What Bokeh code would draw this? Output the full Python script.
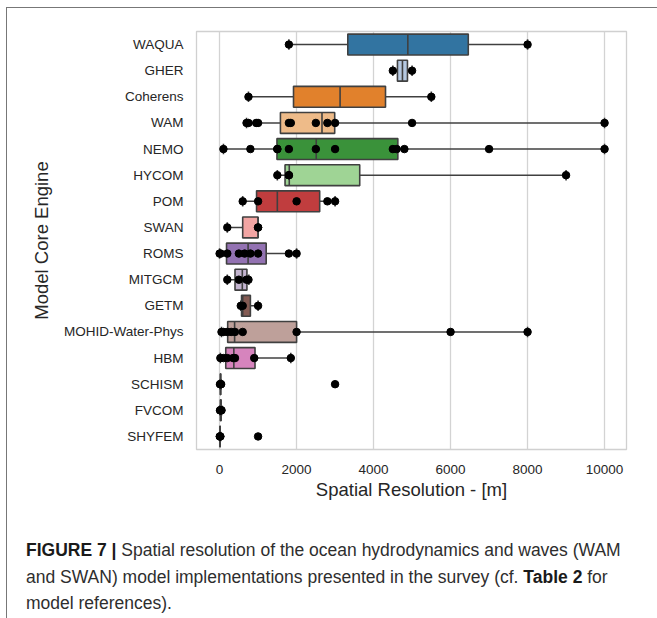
import colorsys
from bokeh.plotting import figure
from bokeh.models import FactorRange, Range1d, FixedTicker, ColumnDataSource, Div
from bokeh.layouts import column
from bokeh.transform import dodge
from bokeh.embed import file_html
from bokeh.resources import INLINE

# ---------------- data ----------------
cats = ["WAQUA", "GHER", "Coherens", "WAM", "NEMO", "HYCOM", "POM", "SWAN",
        "ROMS", "MITGCM", "GETM", "MOHID-Water-Phys", "HBM", "SCHISM",
        "FVCOM", "SHYFEM"]

whisker_lo = [1800, 4500, 750, 700, 100, 1500, 600, 200, 0, 200, 550, 50, 20, 10, 10, 5]
q1         = [3330, 4620, 1920, 1580, 1490, 1700, 960, 600, 180, 400, 570, 210, 160, 20, 20, 10]
medians    = [4890, 4750, 3130, 2660, 2510, 1810, 1500, 1000, 740, 590, 600, 390, 370, 25, 30, 10]
q3         = [6460, 4880, 4310, 2990, 4630, 3640, 2600, 1000, 1210, 710, 800, 2000, 920, 30, 40, 15]
whisker_hi = [8000, 5000, 5500, 10000, 10000, 9000, 3000, 1000, 2000, 760, 1000, 8000, 1850, 40, 50, 20]

pts_waqua = [1800, 8000]
pts_gher = [4500, 5000]
pts_coherens = [750, 5500]
pts_wam = [700, 750, 950, 1000, 1800, 1850, 2500, 2800, 3000, 5000, 10000]
pts_nemo = [100, 800, 1500, 1500, 1800, 2500, 3000, 4500, 4600, 4800, 7000, 10000]
pts_hycom = [1500, 1800, 1800, 9000]
pts_pom = [600, 1000, 2000, 2800, 3000]
pts_swan = [200, 1000, 1000]
pts_roms = [0, 30, 200, 500, 650, 800, 1000, 1800, 2000]
pts_mitgcm = [200, 500, 700, 750]
pts_getm = [550, 600, 1000]
pts_mohid = [50, 100, 200, 300, 400, 600, 2000, 6000, 8000]
pts_hbm = [20, 100, 200, 350, 400, 900, 1850]
pts_schism = [10, 20, 30, 40, 3000]
pts_fvcom = [10, 20, 30, 40, 50]
pts_shyfem = [5, 10, 15, 20, 1000]

x_ticks = [0, 2000, 4000, 6000, 8000, 10000]

caption_html = ("<b style='color:#1a1a1a'>FIGURE 7 |</b> Spatial resolution of the ocean "
                "hydrodynamics and waves (WAM<br>and SWAN) model implementations presented "
                "in the survey (cf. <b style='color:#1a1a1a'>Table 2</b> for<br>model references).")

# ---------------- styling ----------------
base_palette = ["#1f77b4", "#aec7e8", "#ff7f0e", "#ffbb78", "#2ca02c", "#98df8a",
                "#d62728", "#ff9896", "#9467bd", "#c5b0d5", "#8c564b", "#c49c94",
                "#e377c2", "#f7b6d2", "#7f7f7f", "#c7c7c7"]


def desat(hexc, prop=0.75):
    r, g, b = (int(hexc[i:i + 2], 16) / 255 for i in (1, 3, 5))
    h, l, s = colorsys.rgb_to_hls(r, g, b)
    r, g, b = colorsys.hls_to_rgb(h, l, s * prop)
    return "#%02x%02x%02x" % (round(r * 255), round(g * 255), round(b * 255))


colors = [desat(c) for c in base_palette]
edge = "#404040"
FONT = "Liberation Sans"

p = figure(width=641, height=502, output_backend="svg", toolbar_location=None,
           y_range=FactorRange(factors=list(reversed(cats))),
           x_range=Range1d(-600, 10570),
           min_border_left=189, min_border_right=22, min_border_top=23,
           min_border_bottom=61)

p.ygrid.grid_line_color = None
p.xgrid.grid_line_color = "#d3d3d3"
p.xgrid.grid_line_width = 1.3
p.outline_line_color = "#d0d0d0"
p.outline_line_width = 1.3
p.xaxis.ticker = FixedTicker(ticks=x_ticks)

for ax in (p.xaxis, p.yaxis):
    ax.axis_line_color = None
    ax.major_tick_line_color = None
    ax.minor_tick_line_color = None
    ax.major_label_text_font = FONT
    ax.major_label_text_font_size = "13.5px"
    ax.major_label_text_color = "#262626"
    ax.axis_label_text_font = FONT
    ax.axis_label_text_font_size = "18.5px"
    ax.axis_label_text_font_style = "normal"
    ax.axis_label_text_color = "#262626"

p.xaxis.axis_label = "Spatial Resolution - [m]"
p.yaxis.axis_label = "Model Core Engine"
p.xaxis.major_label_standoff = 9
p.xaxis.axis_label_standoff = 2
p.yaxis.major_label_standoff = 7
p.yaxis.axis_label_standoff = 9

box_src = ColumnDataSource(dict(cat=cats, lo=whisker_lo, q1=q1, med=medians,
                                q3=q3, hi=whisker_hi, color=colors))

# whiskers
p.segment(x0="lo", x1="q1", y0="cat", y1="cat", source=box_src,
          line_color=edge, line_width=1.6)
p.segment(x0="q3", x1="hi", y0="cat", y1="cat", source=box_src,
          line_color=edge, line_width=1.6)
# caps
p.segment(x0="lo", x1="lo", y0=dodge("cat", -0.2, range=p.y_range),
          y1=dodge("cat", 0.2, range=p.y_range), source=box_src,
          line_color=edge, line_width=1.6)
p.segment(x0="hi", x1="hi", y0=dodge("cat", -0.2, range=p.y_range),
          y1=dodge("cat", 0.2, range=p.y_range), source=box_src,
          line_color=edge, line_width=1.6)
# boxes
p.hbar(y="cat", left="q1", right="q3", height=0.8, source=box_src,
       fill_color="color", line_color=edge, line_width=1.6)
# medians
p.segment(x0="med", x1="med", y0=dodge("cat", -0.4, range=p.y_range),
          y1=dodge("cat", 0.4, range=p.y_range), source=box_src,
          line_color=edge, line_width=1.6)

# strip points
all_pts = [pts_waqua, pts_gher, pts_coherens, pts_wam, pts_nemo, pts_hycom,
           pts_pom, pts_swan, pts_roms, pts_mitgcm, pts_getm, pts_mohid,
           pts_hbm, pts_schism, pts_fvcom, pts_shyfem]
px, py = [], []
for c, vals in zip(cats, all_pts):
    px.extend(vals)
    py.extend([c] * len(vals))
p.scatter(x=px, y=py, size=7.5, color="black")

caption = Div(text=caption_html, width=650, height=100,
              styles={"font-family": "'Liberation Sans', Arial, sans-serif",
                      "font-size": "17.5px", "line-height": "26.5px",
                      "color": "#2e2e2e", "padding-left": "14px",
                      "padding-top": "22px", "white-space": "nowrap"})

layout = column(p, caption,
                styles={"margin-left": "6px", "margin-top": "7px",
                        "border-top": "1.5px solid #777777",
                        "border-left": "1.5px solid #777777"})

open("out.html", "w").write(file_html(layout, INLINE))
